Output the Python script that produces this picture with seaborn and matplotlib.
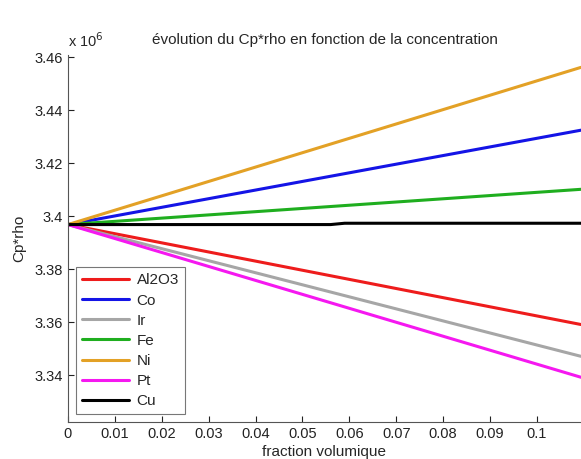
import pandas as pd
import seaborn as sns
import matplotlib.pyplot as plt

# values (Cp*rho, x 10^6)
fraction = [0.0, 0.1094]
cu_fraction = [0.0, 0.056, 0.059, 0.1094]
materials = ['Al2O3', 'Co', 'Ir', 'Fe', 'Ni', 'Pt', 'Cu']
al2o3 = [3.3969, 3.3592]
co = [3.3969, 3.4325]
ir = [3.3969, 3.3472]
fe = [3.3969, 3.4102]
ni = [3.3969, 3.4562]
pt = [3.3969, 3.3393]
cu = [3.3969, 3.3969, 3.3974, 3.3974]

colors = ['#ee1c1c', '#1414e6', '#a6a6a6', '#1fae1f', '#e3a126', '#f518f0', '#000000']

series = [(al2o3, fraction), (co, fraction), (ir, fraction), (fe, fraction),
          (ni, fraction), (pt, fraction), (cu, cu_fraction)]
rows = []
for name, (vals, xs) in zip(materials, series):
    for x, v in zip(xs, vals):
        rows.append({'fraction': x, 'cprho': v, 'material': name})
df = pd.DataFrame(rows)

sns.set_style('white')
plt.rcParams['font.family'] = ['Liberation Sans', 'DejaVu Sans']

fig = plt.figure(figsize=(5.81, 4.59), dpi=100)
ax = fig.add_axes([0.117, 0.081, 0.883, 0.80])

sns.lineplot(data=df, x='fraction', y='cprho', hue='material',
             hue_order=materials, palette=colors, linewidth=2.2, ax=ax)

ax.set_xlim(0, 0.1094)
ax.set_ylim(3.3225, 3.461)
ax.set_xticks([0, 0.01, 0.02, 0.03, 0.04, 0.05, 0.06, 0.07, 0.08, 0.09, 0.1])
ax.set_xticklabels(['0', '0.01', '0.02', '0.03', '0.04', '0.05', '0.06',
                    '0.07', '0.08', '0.09', '0.1'])
ax.set_yticks([3.34, 3.36, 3.38, 3.40, 3.42, 3.44, 3.46])
ax.set_yticklabels(['3.34', '3.36', '3.38', '3.4', '3.42', '3.44', '3.46'])
ax.tick_params(direction='in', length=4, width=0.8, labelsize=10.5,
               colors='#222222', left=True, bottom=True)
for s in ['top', 'right']:
    ax.spines[s].set_visible(False)
for s in ['left', 'bottom']:
    ax.spines[s].set_color('#555555')
    ax.spines[s].set_linewidth(0.8)

ax.set_xlabel('fraction volumique', fontsize=11, labelpad=3)
ax.set_ylabel('Cp*rho', fontsize=11, labelpad=6)
ax.set_title('évolution du Cp*rho en fonction de la concentration',
             fontsize=11, pad=8)
ax.text(0.0, 1.012, 'x 10$^6$', transform=ax.transAxes, fontsize=10.5,
        ha='left', va='bottom')

leg = ax.legend(loc='lower left', fontsize=11, frameon=True, fancybox=False,
                handlelength=3.1, borderpad=0.4, labelspacing=0.4,
                handletextpad=0.5)
leg.get_frame().set_edgecolor('#555555')
leg.get_frame().set_linewidth(0.8)

plt.savefig('out.png', dpi=100)
